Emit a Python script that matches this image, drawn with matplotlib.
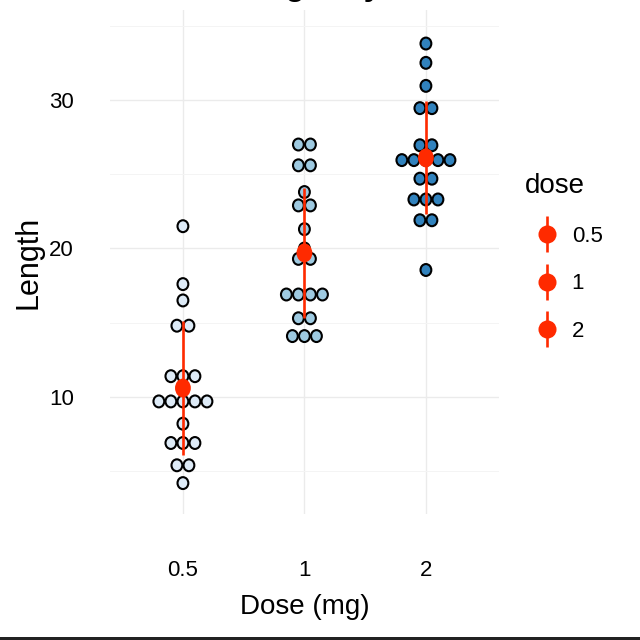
import matplotlib
matplotlib.use("Agg")
import matplotlib.pyplot as plt
from matplotlib.patches import Ellipse, Rectangle
from matplotlib.lines import Line2D
from matplotlib.legend_handler import HandlerTuple

plt.rcParams['font.family'] = ['Liberation Sans', 'DejaVu Sans']

# dose groups and their fill colours
doses = ['0.5', '1', '2']
fills = ['#DEEBF7', '#9ECAE1', '#3182BD']

# dot-plot bins (centre of each stack) and how many dots sit in each
len_05 = [4.2, 5.4, 6.9, 8.2, 9.7, 11.4, 14.8, 16.5, 17.6, 21.5]
n_05 = [1, 2, 3, 1, 5, 3, 2, 1, 1, 1]
len_1 = [14.1, 15.3, 16.9, 19.3, 20.0, 21.3, 22.9, 23.8, 25.6, 27.0]
n_1 = [3, 2, 4, 2, 1, 1, 2, 1, 2, 2]
len_2 = [18.55, 21.9, 23.3, 24.7, 25.95, 26.95, 29.45, 30.95, 32.5, 33.8]
n_2 = [1, 2, 3, 2, 5, 2, 2, 1, 1, 1]

# mean +/- sd per dose
mean_len = [10.6, 19.7, 26.1]
sd_len = [4.5, 4.4, 3.8]

red = '#FF2A00'

fig = plt.figure(figsize=(6.4, 6.4), dpi=100)
ax = fig.add_axes([0.1719, 0.1969, 0.6075, 0.7875])
ax.set_xlim(0.4, 3.6)
ax.set_ylim(2.12, 36.06)

# dots are a bit taller than wide in the reference (stretched image)
dot_w, dot_h = 0.089, 0.80
step = 0.099
groups = [(len_05, n_05), (len_1, n_1), (len_2, n_2)]
for i, (vals, counts) in enumerate(groups):
    x0 = i + 1
    for v, n in zip(vals, counts):
        for k in range(n):
            xk = x0 + (k - (n - 1) / 2) * step
            ax.add_patch(Ellipse((xk, v), dot_w, dot_h, facecolor=fills[i],
                                 edgecolor='black', lw=1.5, zorder=3))

# mean_sd summary
xs = [1, 2, 3]
lo = [m - s for m, s in zip(mean_len, sd_len)]
hi = [m + s for m, s in zip(mean_len, sd_len)]
ax.vlines(xs, lo, hi, color=red, lw=1.9, zorder=4)
for x, m in zip(xs, mean_len):
    ax.add_patch(Ellipse((x, m), 0.13, 1.27, facecolor=red, edgecolor='none', zorder=5))

# axes styling (theme_minimal look)
ax.set_xticks(xs)
ax.set_xticklabels(doses)
ax.set_yticks([10, 20, 30])
ax.set_yticks([5, 15, 25, 35], minor=True)
ax.grid(which='major', color='#EBEBEB', lw=1.0)
ax.grid(which='minor', axis='y', color='#F4F4F4', lw=0.7)
ax.set_axisbelow(True)
for s in ax.spines.values():
    s.set_visible(False)
ax.tick_params(axis='both', which='both', length=0, labelsize=16, colors='black')
ax.tick_params(axis='x', pad=33)
ax.tick_params(axis='y', pad=26)

ax.set_xlabel('Dose (mg)', fontsize=20)
ax.set_ylabel('Length', fontsize=22)
ax.xaxis.set_label_coords(0.5, -0.158)
ax.yaxis.set_label_coords(-0.172, 0.5)

# title sits almost entirely above the canvas, only descenders show
fig.text(298 / 640, 1 + 4.5 / 640, 'Plot of length by dose', ha='center',
         va='baseline', fontsize=23, fontweight='bold')

# legend with pointrange keys
handles = [(Line2D([], [], color=red, marker='|', ls='none', ms=26.5, mew=1.9),
            Line2D([], [], color=red, marker='o', ls='none', ms=13, mew=0))
           for _ in doses]
fig.legend(handles, doses, title='dose', loc='upper left',
           bbox_to_anchor=(525 / 640, 1 - 173 / 640), frameon=False,
           fontsize=16, title_fontsize=20, labelspacing=1.2,
           handlelength=2.0, handletextpad=0.1, borderpad=0, borderaxespad=0,
           alignment='left', handler_map={tuple: HandlerTuple(ndivide=1)})

# dark strip along the bottom edge
fig.add_artist(Rectangle((0, 0), 1, 3 / 640, transform=fig.transFigure,
                         color='#222222', lw=0))

fig.savefig('out.png', dpi=100)
